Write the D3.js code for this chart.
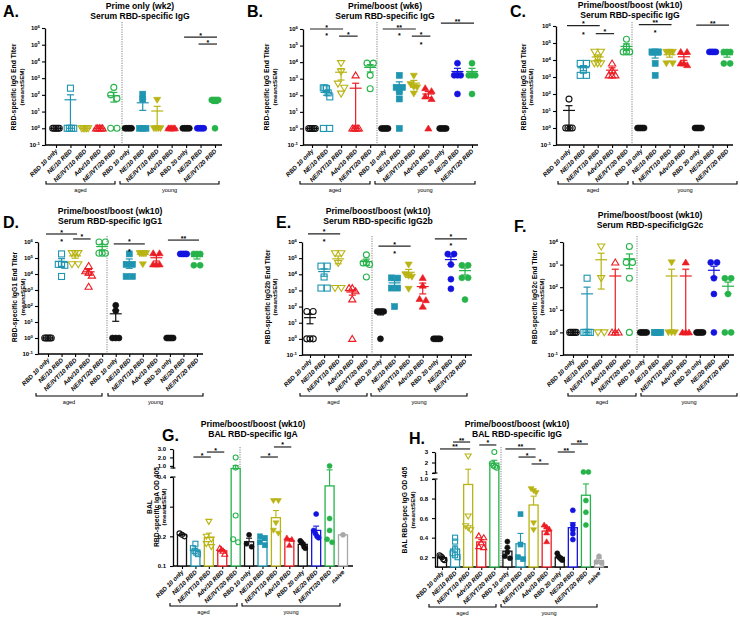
<!DOCTYPE html>
<html><head><meta charset="utf-8">
<script src="https://cdn.jsdelivr.net/npm/d3@7/dist/d3.min.js"></script>
<style>body{margin:0;background:#fff}svg text{font-family:"Liberation Sans",Arial,sans-serif;}</style>
</head><body>
<svg id="c" width="740" height="619"></svg>
<script>
// ---------------- DATA ----------------
const categories = ["RBD 10 only","NE/10 RBD","NE/IVT/10 RBD","Adv/10 RBD","NE/IVT/20 RBD","RBD 10 only","NE/10 RBD","NE/IVT/10 RBD","Adv/10 RBD","RBD 20 only","NE/20 RBD","NE/IVT/20 RBD"];
const balCategories = categories.concat(["naive"]);
const cohortLabels = ["aged","young"];

const titleA = ["Prime only (wk2)","Serum RBD-specific IgG"];
const titleB = ["Prime/boost (wk6)","Serum RBD-specific IgG"];
const titleC = ["Prime/boost/boost (wk10)","Serum RBD-specific IgG"];
const titleD = ["Prime/boost/boost (wk10)","Serum RBD-specific IgG1"];
const titleE = ["Prime/boost/boost (wk10)","Serum RBD-specific IgG2b"];
const titleF = ["Prime/boost/boost (wk10)","Serum RBD-specificIgG2c"];
const titleG = ["Prime/boost/boost (wk10)","BAL RBD-specific IgA"];
const titleH = ["Prime/boost/boost (wk10)","BAL RBD-specific IgG"];

const ylabA = ["RBD-specific IgG End Titer","(mean±SEM)"];
const ylabD = ["RBD-specific IgG1 End  Titer","(mean±SEM)"];
const ylabE = ["RBD-specific IgG2b End  Titer","(mean±SEM)"];
const ylabF = ["RBD-specific IgG2c End  Titer","(mean±SEM)"];
const ylabG = ["BAL","RBD-specific IgA OD 405","(mean±SEM)"];
const ylabH = ["BAL RBD-spec IgG OD 405","(mean±SEM)"];

// end titers per group (individual animals)
const panelA = [[1,1,1,1,1],[250,1,1,1,1],[1,1,1,1,1],[1,1,1,1,1],[280,100,60,1,1],
  [1,1,1,1,1],[110,55,1,1,1],[50,1,1,1,1],[1,1,1,1,1],[1,1,1,1,1],[1,1,1,1,1],[50,50,50,50,1]];
const panelB = [[1,1,1,1,1],[280,280,250,140,80,1,1],[8700,2700,500,280,125],[1600,1,1,1,1,1],[8700,8700,1600,250],
  [1,1,1,1,1],[1600,300,300,160,60,1],[1500,470,320,300,125],[270,180,85,60,1],[1,1,1,1,1],[8700,1600,1600,1600,120],[8700,1600,1600,1600,120]];
const panelC = [[50,1,1,1,1],[6300,6300,2500,1250,1250],[30000,30000,12000,6300,6300,6300],[6300,2500,1250,1250,1250],[165000,60000,30000,30000,30000],
  [1,1,1,1,1],[30000,30000,30000,6300,1250],[30000,30000,30000,6300,6300],[30000,30000,6300,6300,5000],[1,1,1,1,1],[30000,30000,30000,30000,30000],[30000,30000,30000,6300,6300]];
const panelD = [[1,1,1,1,1],[180000,40000,40000,35000,7000],[200000,200000,200000,40000,40000],[32000,15000,12000,8000,1600],[1000000,1000000,200000,200000,200000],
  [110,50,1,1,1],[180000,40000,40000,7000,7000],[200000,200000,200000,200000,40000],[200000,200000,40000,40000,40000],[1,1,1,1,1],[180000,180000,180000,180000,180000],[180000,180000,180000,35000,35000]];
const panelE = [[50,50,1,1,1],[32000,32000,6800,1400,1400],[200000,200000,50000,1400,1400],[1400,1400,900,280,1],[160000,50000,50000,40000,6800],
  [50,50,50,50,1],[6000,5800,1400,1400,100],[40000,10000,8000,7000,1250],[6000,2000,300,250,100],[1,1,1,1,1],[180000,180000,40000,5000,1250],[36000,36000,6000,6000,270]];
const panelF = [[1,1,1,1,1],[250,1,1,1,1],[6300,250,1,1],[1250,1,1,1],[6300,1250,1250,250,1],
  [1,1,1,1,1],[1,1,1,1,1],[1250,1,1,1],[1250,1,1,1],[1,1,1,1,1],[1250,1250,250,50,1],[250,250,50,1,1]];
// BAL OD405 per animal
const panelG = [[0.21,0.205,0.20],[0.175,0.16,0.15,0.14,0.145],[0.25,0.20,0.19,0.175,0.165],[0.16,0.155,0.15,0.14],[2.0,0.8,0.27,0.19,0.18],
  [0.205,0.175,0.165],[0.20,0.195,0.18,0.17],[0.32,0.32,0.245,0.22,0.21],[0.195,0.19,0.17],[0.185,0.18,0.175,0.165,0.16],[0.275,0.22,0.21,0.20,0.195],[1.0,0.26,0.22,0.19,0.18],[0.205]];
const panelH = [[0.22,0.21,0.20,0.18,0.17],[0.40,0.36,0.28,0.24,0.22,0.20],[2.6,0.62,0.52,0.50,0.48],[0.42,0.40,0.35,0.31,0.30],[3.0,1.9,1.7,1.6,1.5],
  [0.36,0.30,0.25,0.21,0.19],[0.64,0.33,0.20,0.18],[0.90,0.88,0.86,0.55,0.48],[0.53,0.51,0.49,0.45,0.36],[0.24,0.21,0.20,0.19,0.18,0.17],[0.68,0.53,0.48,0.44,0.38],[1.1,1.1,0.78,0.66,0.53],[0.21,0.15,0.14]];

// significance: [fromGroup, toGroup, level (log10 titer or OD), label]
const sigA = [[9,11,5.46,"*"],[10,11,5.04,"*"]];
const sigB = [[0,2,6.0,"*"],[1,1,5.7,"*"],[2,3,5.57,"*"],[5,7,6.0,"**"],[6,6,5.7,"*"],[7,8,5.57,"*"],[7.5,7.5,5.15,"*"],[9,11,6.35,"**"]];
const sigC = [[0,2,6.02,"*"],[1,1,5.6,"*"],[2,3,5.55,"*"],[5,7,6.08,"**"],[6,6,5.72,"*"],[9,11,6.05,"**"]];
const sigD = [[0,2,6.5,"*"],[1,1,6.1,"*"],[2,3,6.19,"*"],[5,7,5.88,"*"],[6,6,5.5,"*"],[9,11,6.12,"**"]];
const sigE = [[0,2,6.5,"*"],[1,1,6.1,"*"],[5,7,5.75,"*"],[6,6,5.35,"*"],[9,11,6.19,"*"],[10,10,5.85,"*"]];
const sigF = [];
const sigG = [[1,2,2.05,"*"],[2,3,2.64,"*"],[6,7,2.05,"*"],[7,8,3.24,"*"]];
const sigH = [[0,2,3.29,"**"],[1,2,3.95,"**"],[3,4,3.67,"*"],[5,7,3.29,"**"],[6,7,2.52,"*"],[7,8,1.86,"*"],[9,10,3.0,"**"],[10,11,3.76,"**"]];

// ---------------- STYLE ----------------
const shapes = ["circle","square","tdown","tup","circle","circle","square","tdown","tup","circle","circle","circle","circle"];
const colors = ["#111","#1f95b1","#b9b414","#ec1c24","#26b34a","#111","#1f95b1","#b9b414","#ec1c24","#111","#1414e0","#26b34a","#a8a8a8"];

const svg = d3.select("#c");

function marker(g, shape, x, y, s, color, filled) {
  const fill = filled ? color : "none";
  const sw = filled ? 0.6 : 1.1;
  if (shape === "circle") {
    g.append("circle").attr("cx", x).attr("cy", y).attr("r", s/2).attr("fill", fill).attr("stroke", color).attr("stroke-width", sw);
  } else if (shape === "square") {
    g.append("rect").attr("x", x - s/2).attr("y", y - s/2).attr("width", s).attr("height", s).attr("fill", fill).attr("stroke", color).attr("stroke-width", sw);
  } else {
    const h = s * 0.95, w = s * 0.6;
    const p = shape === "tup"
      ? `M${x},${y - h*0.6}L${x + w},${y + h*0.45}L${x - w},${y + h*0.45}Z`
      : `M${x},${y + h*0.6}L${x + w},${y - h*0.45}L${x - w},${y - h*0.45}Z`;
    g.append("path").attr("d", p).attr("fill", fill).attr("stroke", color).attr("stroke-width", sw);
  }
}

// horizontal spreading of overlapping points (like GraphPad scatter)
function swarm(ys, size, maxW) {
  const idx = ys.map((y, i) => i).sort((a, b) => ys[a] - ys[b]);
  const off = new Array(ys.length).fill(0);
  let cl = [];
  const flush = () => {
    const n = cl.length;
    if (n > 1) {
      const step = Math.min(size * 1.05, (maxW - size) / (n - 1));
      cl.forEach((k, j) => off[k] = (j - (n - 1) / 2) * step);
    }
    cl = [];
  };
  idx.forEach(k => {
    if (cl.length && ys[k] - ys[cl[cl.length - 1]] > size * 0.75) flush();
    cl.push(k);
  });
  flush();
  return off;
}

function commonText(g, L, title, ylab) {
  g.append("text").attr("x", L.lx).attr("y", L.ly).attr("font-size", 16).attr("font-weight", "bold").text(L.letter);
  title.forEach((t, i) => g.append("text").attr("x", L.tx).attr("y", L.ty + i * 9.5).attr("text-anchor", "middle")
    .attr("font-size", 8.6).attr("font-weight", "bold").text(t));
  ylab.forEach((t, i) => {
    const last = i === ylab.length - 1 && t.startsWith("(");
    g.append("text").attr("transform", `translate(${L.ylx + i * L.yls},${L.yly}) rotate(-90)`)
      .attr("text-anchor", "middle").attr("font-size", last ? 6.2 : 6.8).attr("font-weight", "bold").text(t);
  });
  [L.aged, L.young].forEach((r, i) => {
    g.append("path").attr("d", `M${r[0]},${L.by - 3}V${L.by}H${r[1]}V${L.by - 3}`).attr("fill", "none").attr("stroke", "#000").attr("stroke-width", 1.1);
    g.append("text").attr("x", (r[0] + r[1]) / 2).attr("y", L.by + 8).attr("text-anchor", "middle").attr("font-size", 5.6).text(cohortLabels[i]);
  });
}

function xAxisAndLabels(g, L, x, cats) {
  g.append("line").attr("x1", L.ax).attr("x2", L.xe).attr("y1", L.yBot).attr("y2", L.yBot).attr("stroke", "#000").attr("stroke-width", 1.3);
  const ax = d3.axisBottom(x).tickValues(d3.range(cats.length)).tickSize(3).tickFormat("");
  const ag = g.append("g").attr("transform", `translate(0,${L.yBot})`).call(ax);
  ag.select(".domain").remove();
  ag.selectAll("line").attr("stroke-width", 1.1);
  cats.forEach((c, i) => {
    g.append("text").attr("transform", `translate(${x(i) + 2},${L.yBot + 6.5}) rotate(-45)`)
      .attr("text-anchor", "end").attr("font-size", 6.2).attr("font-weight", "bold").attr("font-style", "italic").text(c);
  });
  g.append("line").attr("x1", L.dash).attr("x2", L.dash).attr("y1", L.dashTop).attr("y2", L.yBot)
    .attr("stroke", "#777").attr("stroke-width", 0.9).attr("stroke-dasharray", "1.2,1.2");
}

function sigMarks(g, sig, x, yf) {
  sig.forEach(s => {
    const yy = yf(s[2]);
    if (s[0] !== s[1]) {
      g.append("line").attr("x1", x(s[0]) - 2).attr("x2", x(s[1]) + 2).attr("y1", yy).attr("y2", yy).attr("stroke", "#222").attr("stroke-width", 1.2);
      g.append("text").attr("x", (x(s[0]) + x(s[1])) / 2).attr("y", yy + 0.5).attr("text-anchor", "middle").attr("font-size", 7).attr("font-weight", "bold").text(s[3]);
    } else {
      g.append("text").attr("x", x(s[0])).attr("y", yy + 4).attr("text-anchor", "middle").attr("font-size", 7).attr("font-weight", "bold").text(s[3]);
    }
  });
}

function scatterPanel(L, data, sig, title, ylab) {
  const g = svg.append("g");
  const y = d3.scaleLog().domain([Math.pow(10, L.dmin), Math.pow(10, L.dmax)]).range([L.yBot, L.yTop]);
  const x = d3.scaleLinear().domain([0, data.length - 1]).range([L.x1, L.x2]);
  const decades = d3.range(L.dmin, L.dmax + 1);
  const ya = g.append("g").attr("transform", `translate(${L.ax},0)`)
    .call(d3.axisLeft(y).tickValues(decades.map(e => Math.pow(10, e))).tickFormat("").tickSize(3).tickSizeOuter(0));
  ya.select(".domain").attr("stroke-width", 1.3);
  ya.selectAll("line").attr("stroke-width", 1.1);
  decades.forEach(e => {
    const t = g.append("text").attr("x", L.ax - 5).attr("y", y(Math.pow(10, e)) + 2.2).attr("text-anchor", "end")
      .attr("font-size", 6).attr("font-weight", "bold");
    t.append("tspan").text("10");
    t.append("tspan").attr("dy", -2.6).attr("font-size", 4.3).text(String(e));
  });
  xAxisAndLabels(g, L, x, categories);
  commonText(g, L, title, ylab);
  data.forEach((vals, i) => {
    const ys = vals.map(v => y(v));
    const off = swarm(ys, 6, 12.5);
    vals.forEach((v, k) => marker(g, shapes[i], x(i) + off[k], ys[k], 6, colors[i], i >= 5));
  });
  data.forEach((vals, i) => {
    const m = d3.mean(vals);
    const se = vals.length > 1 ? d3.deviation(vals) / Math.sqrt(vals.length) : 0;
    const lo = Math.max(m - se, Math.pow(10, L.dmin));
    const hi = m + se;
    const c = colors[i], xi = x(i);
    const gg = g.append("g").attr("stroke", c).attr("stroke-width", 1.2);
    gg.append("line").attr("x1", xi - 6).attr("x2", xi + 6).attr("y1", y(m)).attr("y2", y(m));
    if (se > 0) {
      gg.append("line").attr("x1", xi).attr("x2", xi).attr("y1", y(lo)).attr("y2", y(hi));
      gg.append("line").attr("x1", xi - 3.5).attr("x2", xi + 3.5).attr("y1", y(hi)).attr("y2", y(hi));
      gg.append("line").attr("x1", xi - 3.5).attr("x2", xi + 3.5).attr("y1", y(lo)).attr("y2", y(lo));
    }
  });
  sigMarks(g, sig, x, lv => y(Math.pow(10, lv)));
}

function barPanel(L, data, sig, title, ylab) {
  const g = svg.append("g");
  const low = d3.scaleLinear().domain(L.lowDom).range(L.lowRange);
  const high = d3.scaleLinear().domain(L.highDom).range(L.highRange);
  const y = v => v <= L.lowMax ? low(v) : high(v);
  const x = d3.scaleLinear().domain([0, data.length - 1]).range([L.x1, L.x2]);
  [[low, L.lowTicks, L.lowFmt], [high, L.highTicks, L.highFmt]].forEach(([sc, tv, fm]) => {
    const a = g.append("g").attr("transform", `translate(${L.ax},0)`)
      .call(d3.axisLeft(sc).tickValues(tv).tickFormat(d3.format(fm)).tickSize(3).tickSizeOuter(0));
    a.select(".domain").attr("stroke-width", 1.3);
    a.selectAll("line").attr("stroke-width", 1.1);
    a.selectAll("text").attr("font-size", 6).attr("font-weight", "bold").attr("font-family", "Liberation Sans, Arial, sans-serif").attr("dx", -1);
  });
  [L.lowRange[1], L.highRange[0]].forEach(yy => g.append("line").attr("x1", L.ax - 2.5).attr("x2", L.ax + 2.5)
    .attr("y1", yy).attr("y2", yy).attr("stroke", "#000").attr("stroke-width", 1.1));
  xAxisAndLabels(g, L, x, balCategories);
  commonText(g, L, title, ylab);
  const bw = 9;
  data.forEach((vals, i) => {
    const m = d3.mean(vals);
    const se = vals.length > 1 ? d3.deviation(vals) / Math.sqrt(vals.length) : 0;
    const c = colors[i], xi = x(i);
    g.append("rect").attr("x", xi - bw / 2).attr("y", y(m)).attr("width", bw).attr("height", L.yBot - y(m))
      .attr("fill", "#fff").attr("stroke", c).attr("stroke-width", 1.3);
    if (se > 0) {
      g.append("line").attr("x1", xi).attr("x2", xi).attr("y1", y(m)).attr("y2", y(m + se)).attr("stroke", c).attr("stroke-width", 1.1);
      g.append("line").attr("x1", xi - 3).attr("x2", xi + 3).attr("y1", y(m + se)).attr("y2", y(m + se)).attr("stroke", c).attr("stroke-width", 1.1);
    }
    const ys = vals.map(v => y(v));
    const off = swarm(ys, 5, 10);
    vals.forEach((v, k) => marker(g, shapes[i], xi + off[k], ys[k], 5, c, i >= 5));
  });
  sigMarks(g, sig, x, y);
}

// ---------------- LAYOUT ----------------
const layoutA = {letter:"A.", lx:3, ly:17, tx:140, ty:9, ax:45, x1:56, x2:215, xe:222, yTop:28, yBot:145, dmin:-1, dmax:6, dash:122, dashTop:22, ylx:16, yls:8, yly:87, by:184, aged:[46,115], young:[120,219]};
const layoutB = {letter:"B.", lx:247, ly:17, tx:385, ty:9, ax:303, x1:312, x2:472, xe:478, yTop:29, yBot:145, dmin:-1, dmax:6, dash:377, dashTop:22, ylx:269, yls:8, yly:87, by:184, aged:[300,370], young:[375,475]};
const layoutC = {letter:"C.", lx:510, ly:17, tx:630, ty:8, ax:556, x1:569, x2:727, xe:733, yTop:26, yBot:145, dmin:-1, dmax:6, dash:632, dashTop:22, ylx:526, yls:7, yly:87, by:184, aged:[558,628], young:[633,737]};
const layoutD = {letter:"D.", lx:3, ly:228, tx:110, ty:214, ax:38, x1:48, x2:197, xe:203, yTop:242, yBot:354, dmin:-1, dmax:6, dash:107, dashTop:236, ylx:17, yls:8, yly:297, by:396, aged:[36,102], young:[108,203]};
const layoutE = {letter:"E.", lx:276, ly:228, tx:378, ty:214, ax:302, x1:310, x2:465, xe:472, yTop:242, yBot:355, dmin:-1, dmax:6, dash:372, dashTop:236, ylx:270, yls:7, yly:297, by:396, aged:[300,367], young:[371,467]};
const layoutF = {letter:"F.", lx:514, ly:232, tx:650, ty:218, ax:563, x1:573, x2:728, xe:734, yTop:242, yBot:355, dmin:-1, dmax:4, dash:637, dashTop:236, ylx:537, yls:7, yly:297, by:396, aged:[568,636], young:[641,737]};
const layoutG = {letter:"G.", lx:162, ly:441, tx:253, ty:427, ax:173, x1:182, x2:343, xe:353, yBot:566, lowDom:[0.1,0.4], lowRange:[566,477], highDom:[0.75,3], highRange:[468,449], lowMax:0.4, lowTicks:[0.1,0.2,0.3,0.4], highTicks:[1,2,3], lowFmt:".1f", highFmt:".1f", dash:240, dashTop:447, ylx:152, yls:7, yly:507, by:606, aged:[170,237], young:[242,340]};
const layoutH = {letter:"H.", lx:409, ly:444, tx:517, ty:427, ax:435, x1:442, x2:599, xe:608, yBot:567, lowDom:[0.1,1.0], lowRange:[567,479], highDom:[1,3], highRange:[473,452], lowMax:1.0, lowTicks:[0.2,0.4,0.6,0.8,1.0], highTicks:[1,2,3], lowFmt:".1f", highFmt:"d", dash:501, dashTop:447, ylx:407, yls:8, yly:510, by:607, aged:[429,496], young:[501,597]};

scatterPanel(layoutA, panelA, sigA, titleA, ylabA);
scatterPanel(layoutB, panelB, sigB, titleB, ylabA);
scatterPanel(layoutC, panelC, sigC, titleC, ylabA);
scatterPanel(layoutD, panelD, sigD, titleD, ylabD);
scatterPanel(layoutE, panelE, sigE, titleE, ylabE);
scatterPanel(layoutF, panelF, sigF, titleF, ylabF);
barPanel(layoutG, panelG, sigG, titleG, ylabG);
barPanel(layoutH, panelH, sigH, titleH, ylabH);
</script>
</body></html>
